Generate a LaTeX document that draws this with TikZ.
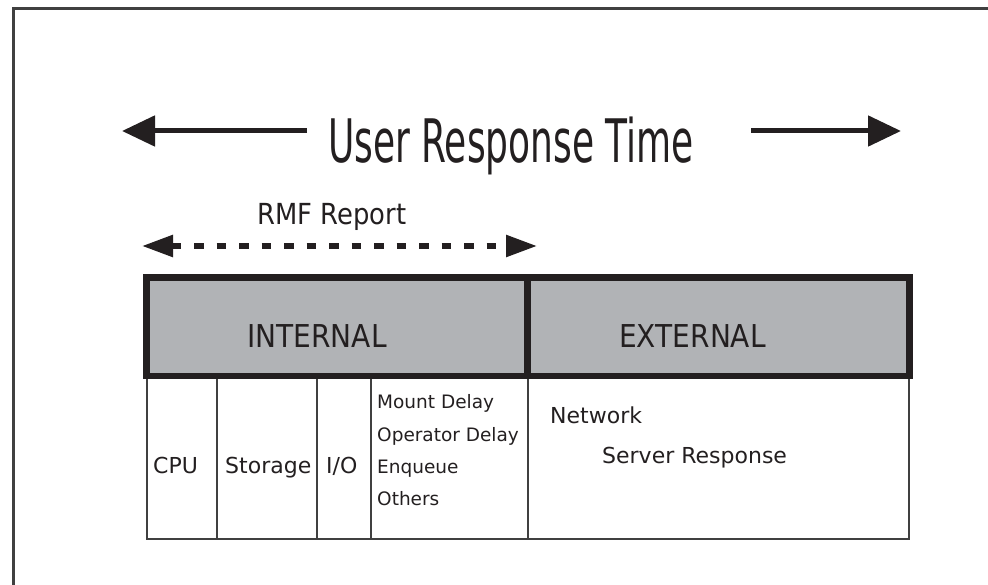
\documentclass[tikz,border=0pt]{standalone}
\usepackage{fontspec}
\setmainfont{DejaVu Sans}
\newfontfamily\capsfont{DejaVu Sans}[FakeStretch=0.89]
\newfontfamily\titlefont{DejaVu Sans}[FakeStretch=0.6]
\usetikzlibrary{arrows.meta,positioning,calc}
\definecolor{ink}{HTML}{231F20}
\definecolor{bandgray}{HTML}{B1B3B6}
\definecolor{framegray}{HTML}{404040}

\begin{document}
\begin{tikzpicture}[x=1pt, y=-1pt,
    cell/.style={draw=black!75, line width=2pt, outer sep=0pt, inner sep=0pt, minimum height=163pt},
    band/.style={draw=ink, fill=bandgray, line width=6.5pt, outer sep=0pt, minimum height=98.5pt},
    celltext/.style={font=\fontsize{22}{26}\selectfont, text=ink, inner sep=0pt, anchor=base west},
    listtext/.style={font=\fontsize{18.5}{22}\selectfont, text=ink, inner sep=0pt, anchor=base west},
    bandtext/.style={font=\capsfont\fontsize{31.5}{36}\selectfont, text=ink, inner sep=0pt, anchor=base},
    bigarrow/.style={draw=ink, line width=5pt, -{Triangle[length=33pt, width=30pt]}},
    rmfarrow/.style={draw=ink, line width=5.5pt, dash pattern=on 9.5pt off 13pt,
        {Triangle[length=31pt, width=21pt]}-{Triangle[length=31pt, width=21pt]}}]
    \useasboundingbox (0,0) rectangle (988,585);
    \draw [framegray, line width=3pt] (13,8.5) rectangle (1000,600);

    % total response time
    \node (title) [font=\titlefont\fontsize{60}{70}\selectfont, text=ink, inner sep=0pt, anchor=base] at (511,163) {User Response Time};
    \coordinate (titleL) at (307,131);
    \coordinate (titleLtip) at (122,131);
    \coordinate (titleR) at (751,131);
    \coordinate (titleRtip) at (901,131);
    \draw [bigarrow] (titleL) -- (titleLtip);
    \draw [bigarrow] (titleR) -- (titleRtip);

    % RMF part
    \node (rmf) [font=\capsfont\fontsize{29}{34}\selectfont, text=ink, inner sep=0pt, anchor=base] at (332,225) {RMF Report};
    \coordinate (rmfL) at (142,246);
    \coordinate (rmfR) at (537,246);
    \draw [rmfarrow] (rmfL) -- (rmfR);

    % detail cells
    \node (cpu) [cell, minimum width=70pt, anchor=north west] at (147,376) {};
    \node (storage) [cell, minimum width=100pt, right=0pt of cpu] {};
    \node (io) [cell, minimum width=54pt, right=0pt of storage] {};
    \node (delays) [cell, minimum width=157pt, right=0pt of io] {};
    \node (outside) [cell, minimum width=381pt, right=0pt of delays] {};

    % internal / external bands
    \node (internal) [band, minimum width=381pt, anchor=north west] at (146.5,277.5) {};
    \node (external) [band, minimum width=382pt, right=0pt of internal] {};
    \node (internalT) [bandtext] at (317,348) {INTERNAL};
    \node (externalT) [bandtext] at (692.5,348) {EXTERNAL};

    \node (cpuT) [celltext] at (153,473) {CPU};
    \node (storageT) [celltext] at (225,473) {Storage};
    \node (ioT) [celltext] at (326,473) {I/O};
    \node (mountT) [listtext] at (377,408) {Mount Delay};
    \node (operT) [listtext] at (377,441) {Operator Delay};
    \node (enqT) [listtext] at (377,473) {Enqueue};
    \node (otherT) [listtext] at (377,505) {Others};
    \node (netT) [celltext] at (550,423) {Network};
    \node (serverT) [celltext] at (602,463) {Server Response};
\end{tikzpicture}
\end{document}
